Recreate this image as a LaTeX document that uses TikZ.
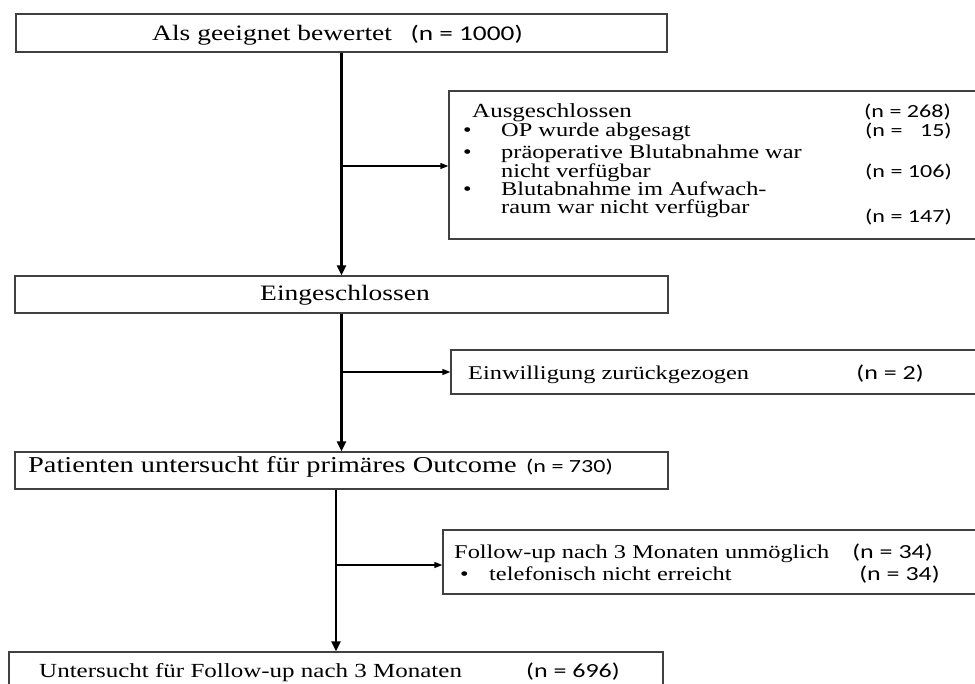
\documentclass[tikz,border=0pt]{standalone}
\usepackage{fontspec}
\setmainfont[FakeStretch=1.25]{Liberation Serif}
\newfontfamily\nfont[FakeStretch=1.3]{Carlito}
\usetikzlibrary{arrows.meta}
\begin{document}
\begin{tikzpicture}[x=1pt,y=-1pt,
  box/.style={draw=black!75, line width=1.3pt, inner sep=0pt, fill=white},
  txt/.style={inner sep=0pt, anchor=base west, font=\fontsize{19.5}{19.5}\selectfont},
  bigtxt/.style={inner sep=0pt, anchor=base west, font=\fontsize{22}{22}\selectfont},
  num/.style={inner sep=0pt, anchor=base east, font=\nfont\fontsize{20}{20}\selectfont},
  snum/.style={num, font=\nfont\fontsize{18.5}{18.5}\selectfont},
  mainarr/.style={line width=2.2pt, -{Triangle[length=10pt,width=9pt]}},
  brarr/.style={line width=1.4pt, -{Triangle[length=8pt,width=6pt]}}]
\useasboundingbox (0,0) rectangle (975,684);
\fill[white] (0,0) rectangle (975,684);
% main boxes
\node[box, minimum width=651pt, minimum height=38pt] (b1) at (341.5,33) {};
\node[box, minimum width=653pt, minimum height=37pt] (b2) at (341.5,294.5) {};
\node[box, minimum width=653pt, minimum height=37pt] (b3) at (341.5,470.5) {};
\node[box, minimum width=654pt, minimum height=58pt] (b4) at (336,681) {};
% side boxes
\node[box, minimum width=551pt, minimum height=148pt] (e1) at (724.5,165) {};
\node[box, minimum width=549pt, minimum height=44pt] (e2) at (725.5,372) {};
\node[box, minimum width=557pt, minimum height=64pt] (e3) at (721.5,562) {};
% texts box 1
\node[bigtxt] (t1) at (152,41) {Als geeignet bewertet};
\node[num, font=\nfont\fontsize{21}{21}\selectfont] (n1) at (523,41) {(n = 1000)};
% excluded
\node[txt, font=\fontsize{20}{20}\selectfont] (ta) at (472,118) {Ausgeschlossen};
\node[snum] (na) at (951,118) {(n = 268)};
\node[txt] (u1) at (463,137) {•};
\node[txt] (ta1) at (501,137) {OP wurde abgesagt};
\node[snum] (na1) at (952,137) {(n = \phantom{2}15)};
\node[txt] (u2) at (463,159) {•};
\node[txt] (ta2) at (501,159) {präoperative Blutabnahme war};
\node[txt] (ta3) at (501,178) {nicht verfügbar};
\node[snum] (na2) at (952,178) {(n = 106)};
\node[txt] (u3) at (463,196) {•};
\node[txt] (ta4) at (501,196) {Blutabnahme im Aufwach-};
\node[txt] (ta5) at (501,214) {raum war nicht verfügbar};
\node[snum] (na3) at (952,223) {(n = 147)};
% included
\node[bigtxt] (t2) at (260,301) {Eingeschlossen};
\node[txt] (tb) at (468,380) {Einwilligung zurückgezogen};
\node[num] (nb) at (924,380) {(n = 2)};
% primary outcome
\node[bigtxt, font=\fontsize{22.7}{22.7}\selectfont] (t3) at (28,472) {Patienten untersucht für primäres Outcome};
\node[snum] (n3) at (613,472) {(n = 730)};
% follow-up
\node[txt] (tc) at (454,558) {Follow-up nach 3 Monaten unmöglich};
\node[num] (nc) at (933,558) {(n = 34)};
\node[txt] (u4) at (460,580) {•};
\node[txt] (tc1) at (489,580) {telefonisch nicht erreicht};
\node[num] (nc1) at (940,580) {(n = 34)};
% final
\node[txt, font=\fontsize{20}{20}\selectfont] (t4) at (39,677) {Untersucht für Follow-up nach 3 Monaten};
\node[num] (n4) at (620,677) {(n = 696)};
% connectors
\draw[mainarr] (b1.south) -- (b2.north);
\draw[mainarr] (b2.south) -- (b3.north);
\draw[mainarr] ([xshift=-5.5pt]b3.south) -- ([xshift=-5.5pt]b3.south |- b4.north);
\coordinate (j1) at (341.5,166);
\coordinate (j2) at (341.5,372);
\coordinate (j3) at (336,565);
\draw[brarr] (j1) -- (j1 -| e1.west);
\draw[brarr] (j2) -- (j2 -| e2.west);
\draw[brarr] (j3) -- (j3 -| e3.west);
\end{tikzpicture}
\end{document}
